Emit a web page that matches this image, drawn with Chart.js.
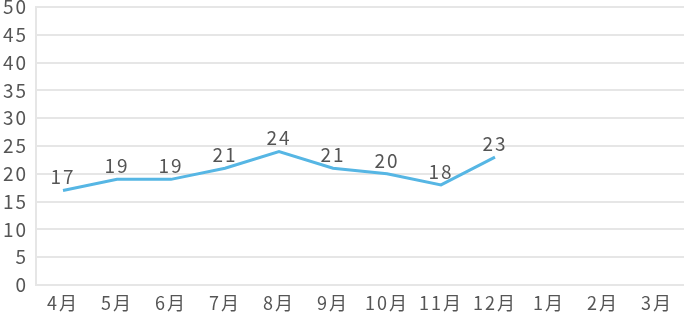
<!DOCTYPE html>
<html>
<head>
<meta charset="utf-8">
<script src="https://cdn.jsdelivr.net/npm/chart.js@4"></script>
<style>
  html, body { margin: 0; padding: 0; background: #fff; }
  #wrap { width: 685px; height: 323px; }
</style>
</head>
<body>
<div id="wrap"><canvas id="chart" width="685" height="323"></canvas></div>
<script>
// ===== DATA =====
const months = ['4月', '5月', '6月', '7月', '8月', '9月', '10月', '11月', '12月', '1月', '2月', '3月'];
const values = [17, 19, 19, 21, 24, 21, 20, 18, 23, null, null, null];

const FONT = "'Noto Sans CJK JP', 'Noto Sans', sans-serif";

// a bit of letter spacing, like the rounded font in the original
const spacing = {
    id: 'spacing',
    beforeDraw(chart) { chart.ctx.letterSpacing = '2px'; }
};

// value labels above each point
const pointLabels = {
    id: 'pointLabels',
    afterDatasetsDraw(chart) {
        const ctx = chart.ctx;
        const meta = chart.getDatasetMeta(0);
        ctx.save();
        ctx.font = '19px ' + FONT;
        ctx.fillStyle = '#555555';
        ctx.textAlign = 'center';
        ctx.textBaseline = 'bottom';
        meta.data.forEach((pt, i) => {
            if (values[i] == null) return;
            ctx.fillText(String(values[i]), pt.x, pt.y - 4);
        });
        ctx.restore();
    }
};

new Chart(document.getElementById('chart').getContext('2d'), {
    type: 'line',
    data: {
        labels: months,
        datasets: [{
            data: values,
            borderColor: '#56b6e4',
            borderWidth: 3,
            pointRadius: 0,
            tension: 0,
            fill: false,
            spanGaps: false,
        }]
    },
    options: {
        responsive: false,
        animation: false,
        layout: { padding: { top: 7, right: 1 } },
        plugins: {
            legend: { display: false },
            tooltip: { enabled: false }
        },
        scales: {
            x: {
                offset: true,
                grid: { display: false, drawTicks: false },
                border: { display: false },
                ticks: { color: '#555555', font: { family: FONT, size: 18 }, padding: 7 },
                afterFit: s => { s.height = 38; s.paddingLeft = 0; s.paddingRight = 0; }
            },
            y: {
                min: 0,
                max: 50,
                ticks: { stepSize: 5, color: '#555555', font: { family: FONT, size: 19 }, padding: 8 },
                grid: { color: '#e6e6e6', lineWidth: 2, drawTicks: false },
                border: { color: '#e6e6e6', width: 2 },
                afterFit: s => { s.width = 36; s.paddingTop = 0; s.paddingBottom = 0; }
            }
        }
    },
    plugins: [spacing, pointLabels]
});
</script>
</body>
</html>
